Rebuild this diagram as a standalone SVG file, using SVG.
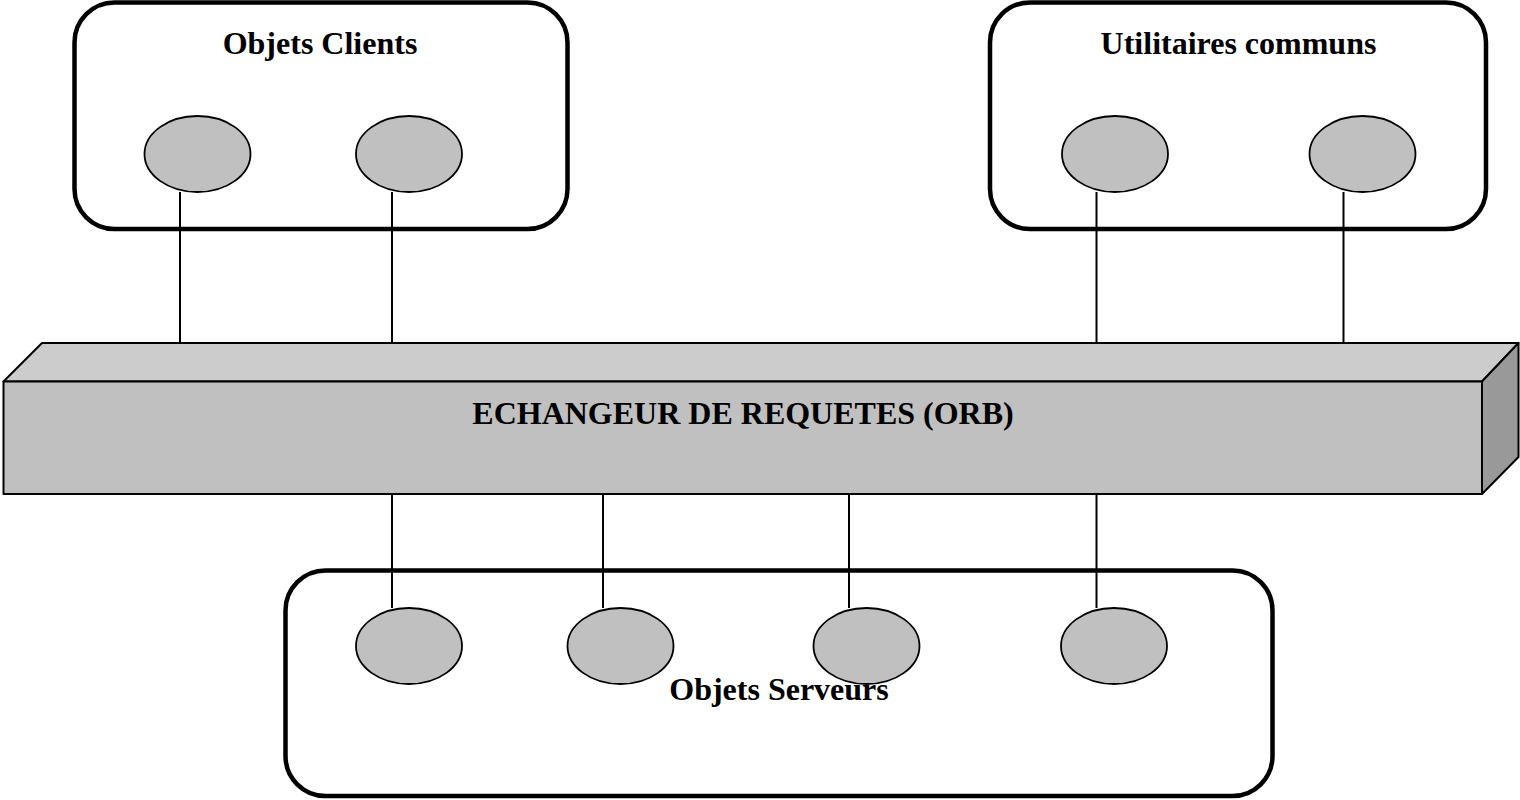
<svg xmlns="http://www.w3.org/2000/svg" width="1520" height="800" viewBox="0 0 1520 800">
<style>
.box{fill:#ffffff;stroke:#000;stroke-width:4.5}
.obj{fill:#c0c0c0;stroke:#000;stroke-width:1.8}
.lbl{font-family:"Liberation Serif","Times New Roman",serif;font-weight:bold;font-size:32px;fill:#000;text-anchor:middle}
.con{stroke:#000;stroke-width:2;fill:none}
.bar{stroke:#000;stroke-width:2;stroke-linejoin:round}
</style>
<rect width="1520" height="800" fill="#ffffff"/>
<g id="clients">
<rect class="box" x="74.5" y="2.5" width="493" height="226.5" rx="40" ry="40"/>
<text class="lbl" x="320" y="54">Objets Clients</text>
<ellipse class="obj" cx="197.5" cy="154" rx="53" ry="38"/>
<ellipse class="obj" cx="409" cy="154" rx="53" ry="38"/>
</g>
<g id="utilitaires">
<rect class="box" x="990" y="2.5" width="496" height="226.5" rx="40" ry="40"/>
<text class="lbl" x="1238.5" y="54">Utilitaires communs</text>
<ellipse class="obj" cx="1115" cy="154" rx="53" ry="38"/>
<ellipse class="obj" cx="1362.5" cy="154" rx="53" ry="38"/>
</g>
<g id="serveurs">
<rect class="box" x="285.5" y="570.5" width="987" height="225.5" rx="40" ry="40"/>
<ellipse class="obj" cx="409" cy="646" rx="53" ry="38"/>
<ellipse class="obj" cx="620.5" cy="646" rx="53" ry="38"/>
<ellipse class="obj" cx="866.5" cy="646" rx="53" ry="38"/>
<ellipse class="obj" cx="1114" cy="646" rx="53" ry="38"/>
<text class="lbl" x="779" y="700">Objets Serveurs</text>
</g>
<g id="orb">
<polygon class="bar" fill="#cccccc" points="3.5,381.5 42,343 1518.5,343 1482,381.5"/>
<polygon class="bar" fill="#999999" points="1482,381.5 1518.5,343 1518.5,457 1482,494"/>
<rect class="bar" fill="#c0c0c0" x="3.5" y="381.5" width="1478.5" height="112.5"/>
<text class="lbl" x="743" y="424">ECHANGEUR DE REQUETES (ORB)</text>
</g>
<g id="connectors">
<line class="con" x1="180" y1="192" x2="180" y2="343"/>
<line class="con" x1="392" y1="192" x2="392" y2="343"/>
<line class="con" x1="1096.5" y1="192" x2="1096.5" y2="343"/>
<line class="con" x1="1343.5" y1="192" x2="1343.5" y2="343"/>
<line class="con" x1="392" y1="494" x2="392" y2="608"/>
<line class="con" x1="603" y1="494" x2="603" y2="608"/>
<line class="con" x1="849" y1="494" x2="849" y2="608"/>
<line class="con" x1="1096.5" y1="494" x2="1096.5" y2="608"/>
</g>
</svg>
